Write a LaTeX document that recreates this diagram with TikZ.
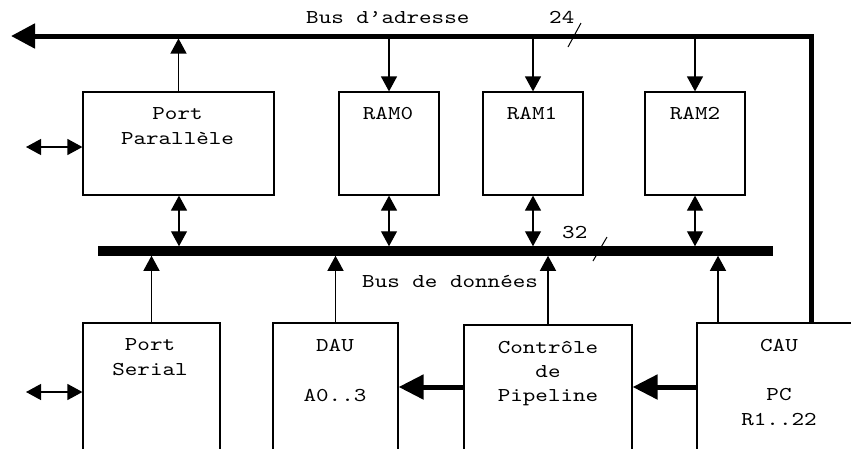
\documentclass[tikz,border=0pt]{standalone}
\usepackage{fontspec}
\setmonofont[FakeStretch=1.22]{lmmono10-regular.otf}
\usetikzlibrary{arrows.meta}
\begin{document}
\begin{tikzpicture}[x=1pt,y=-1pt,
  box/.style={draw, line width=1.2pt, rectangle, inner sep=0pt},
  lbl/.style={font=\ttfamily\fontsize{19.6}{24.5}\selectfont, inner sep=0pt, align=center, anchor=base},
  sig/.style={line width=1.2pt, -{Triangle[length=15pt,width=16pt]}},
  bisig/.style={line width=1.2pt, {Triangle[length=15pt,width=16pt]}-{Triangle[length=15pt,width=16pt]}},
  fat/.style={line width=5pt, -{Triangle[length=25pt,width=24pt]}},
  addrbus/.style={line width=5pt, -{Triangle[length=24pt,width=24pt]}},
  databus/.style={line width=9.5pt},
  tick/.style={line width=1pt}
]
\useasboundingbox (0,0) rectangle (851,448);
\clip (0,0) rectangle (851,448);

% upper row of blocks
\node[box, minimum width=191, minimum height=103] (pp)   at (178.5,143.5) {};
\node[box, minimum width=100, minimum height=103] (ram0) at (389,143.5) {};
\node[box, minimum width=100, minimum height=103] (ram1) at (533,143.5) {};
\node[box, minimum width=100, minimum height=103] (ram2) at (695,143.5) {};

% lower row of blocks
\node[box, minimum width=137, minimum height=137] (ps)  at (151.5,391.5) {};
\node[box, minimum width=125, minimum height=137] (dau) at (335.5,391.5) {};
\node[box, minimum width=168, minimum height=135] (ctl) at (548,392.5) {};
\node[box, minimum width=164, minimum height=137] (cau) at (779,391.5) {};

% block texts (the base anchor sits on the last line)
\node[lbl] (tpp)   at (177.5,144) {Port\\Parallèle};
\node[lbl] (tram0) at (388,119) {RAM0};
\node[lbl] (tram1) at (532,119) {RAM1};
\node[lbl] (tram2) at (695,119) {RAM2};
\node[lbl] (tps)   at (150,375) {Port\\Serial};
\node[lbl] (tdau)  at (335,401) {DAU\\[25pt]A0..3};
\node[lbl] (tctl)  at (548,401) {Contrôle\\[-0.5pt]de\\[-0.5pt]Pipeline};
\node[lbl] (tcau)  at (779,425) {CAU\\[25pt]PC\\R1..22};

% address bus
\coordinate (abusL) at (11,36);
\coordinate (abusB) at (0,38.5);
\draw[addrbus] (cau.north -| 811,0) |- (abusL);
\node[lbl, anchor=base west] (labus) at (306,23) {Bus d’adresse};
\node[lbl, anchor=base west] (wabus) at (549,23) {24};
\draw[tick] (568,47) -- (581,23);

% data bus
\coordinate (dbusL) at (98,251);
\coordinate (dbusR) at (773,251);
\coordinate (dbusT) at (0,246.25);
\coordinate (dbusB) at (0,255.75);
\draw[databus] (dbusL) -- (dbusR);
\node[lbl, anchor=base west] (ldbus) at (362,287) {Bus de données};
\node[lbl, anchor=base west] (wdbus) at (562,238) {32};
\draw[tick] (593,261) -- (607,237);

% address lines
\draw[sig] (pp.north) -- (pp.north |- abusB);
\draw[sig] (ram0.north |- abusB) -- (ram0.north);
\draw[sig] (ram1.north |- abusB) -- (ram1.north);
\draw[sig] (ram2.north |- abusB) -- (ram2.north);

% data lines, upper row
\draw[bisig] (pp.south -| 179,0) -- (179,0 |- dbusT);
\draw[bisig] (ram0.south) -- (ram0.south |- dbusT);
\draw[bisig] (ram1.south) -- (ram1.south |- dbusT);
\draw[bisig] (ram2.south) -- (ram2.south |- dbusT);

% data lines, lower row
\draw[sig] (ps.north) -- (ps.north |- dbusB);
\draw[sig] (dau.north) -- (dau.north |- dbusB);
\draw[sig] (ctl.north) -- (ctl.north |- dbusB);
\draw[sig] (cau.north -| 718,0) -- (718,0 |- dbusB);

% external ports
\coordinate (ppio) at (26,147);
\coordinate (psio) at (26,392);
\draw[bisig] (ppio) -- (ppio -| pp.west);
\draw[bisig] (psio) -- (psio -| ps.west);

% control flow
\draw[fat] (cau.west |- 0,387) -- (ctl.east |- 0,387);
\draw[fat] (ctl.west |- 0,387) -- (dau.east |- 0,387);
\end{tikzpicture}
\end{document}
